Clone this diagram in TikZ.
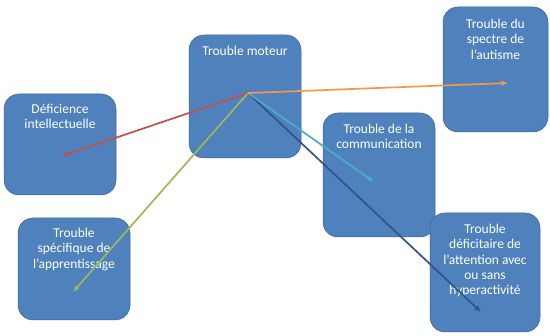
\documentclass[tikz,border=0pt]{standalone}
\usepackage{fontspec}
\setmainfont{Carlito}
\usetikzlibrary{arrows.meta}
\definecolor{boxfill}{HTML}{4F81BD}
\definecolor{boxline}{HTML}{3A6494}
\definecolor{lnred}{HTML}{C0504D}
\definecolor{lnorange}{HTML}{F79646}
\definecolor{lngreen}{HTML}{9BBB59}
\definecolor{lnteal}{HTML}{4BACC6}
\definecolor{lnnavy}{HTML}{30548A}
\tikzset{
  box/.style={draw=boxline, line width=0.5pt, fill=boxfill, rounded corners=15pt, inner sep=0pt},
  boxtext/.style={text=white, font=\fontsize{13.5}{15.4}\selectfont, align=center, inner sep=0pt, anchor=north},
  link/.style={line width=1.7pt, -{Latex[length=6.5pt,width=5.5pt]}}
}
\begin{document}
\begin{tikzpicture}[x=1pt,y=-1pt]
\useasboundingbox (0,0) rectangle (550,336);
\fill[white] (0,0) rectangle (550,336);

% boxes
\node[box, minimum width=112pt, minimum height=101pt] (def) at (60,144.5) {};
\node[box, minimum width=112pt, minimum height=102pt] (spe) at (74,269) {};
\node[box, minimum width=112pt, minimum height=123pt] (mot) at (245,96.5) {};
\node[box, minimum width=105pt, minimum height=125pt] (aut) at (495.5,69.5) {};
\node[box, minimum width=112pt, minimum height=124pt] (com) at (379,175) {};
\node[box, minimum width=110pt, minimum height=119pt] (dft) at (485,272.5) {};

% captions
\node[boxtext] (def-t) at ([yshift=-10pt]def.north) {Déficience\\intellectuelle};
\node[boxtext] (spe-t) at ([yshift=-10pt]spe.north) {Trouble\\spécifique de\\l’apprentissage};
\node[boxtext] (mot-t) at ([yshift=-11pt]mot.north) {Trouble moteur};
\node[boxtext] (aut-t) at ([yshift=-12pt]aut.north) {Trouble du\\spectre de\\l’autisme};
\node[boxtext] (com-t) at ([yshift=-11pt]com.north) {Trouble de la\\communication};
\node[boxtext] (dft-t) at ([yshift=-11pt]dft.north) {Trouble\\déficitaire de\\l’attention avec\\ou sans\\hyperactivité};

% arrow ends
\coordinate (hub) at (248,93);
\coordinate (def-e) at (62,156);
\coordinate (aut-e) at (508,83);
\coordinate (spe-e) at (73,292);
\coordinate (com-e) at (374,182);
\coordinate (dft-e) at (481,312);

% links
\draw[link, lnred] (hub) -- (def-e);
\draw[link, lngreen] (hub) -- (spe-e);
\draw[link, lnnavy] (hub) -- (dft-e);
\draw[link, lnteal] (hub) -- (com-e);
\draw[link, lnorange] (hub) -- (aut-e);
\end{tikzpicture}
\end{document}
